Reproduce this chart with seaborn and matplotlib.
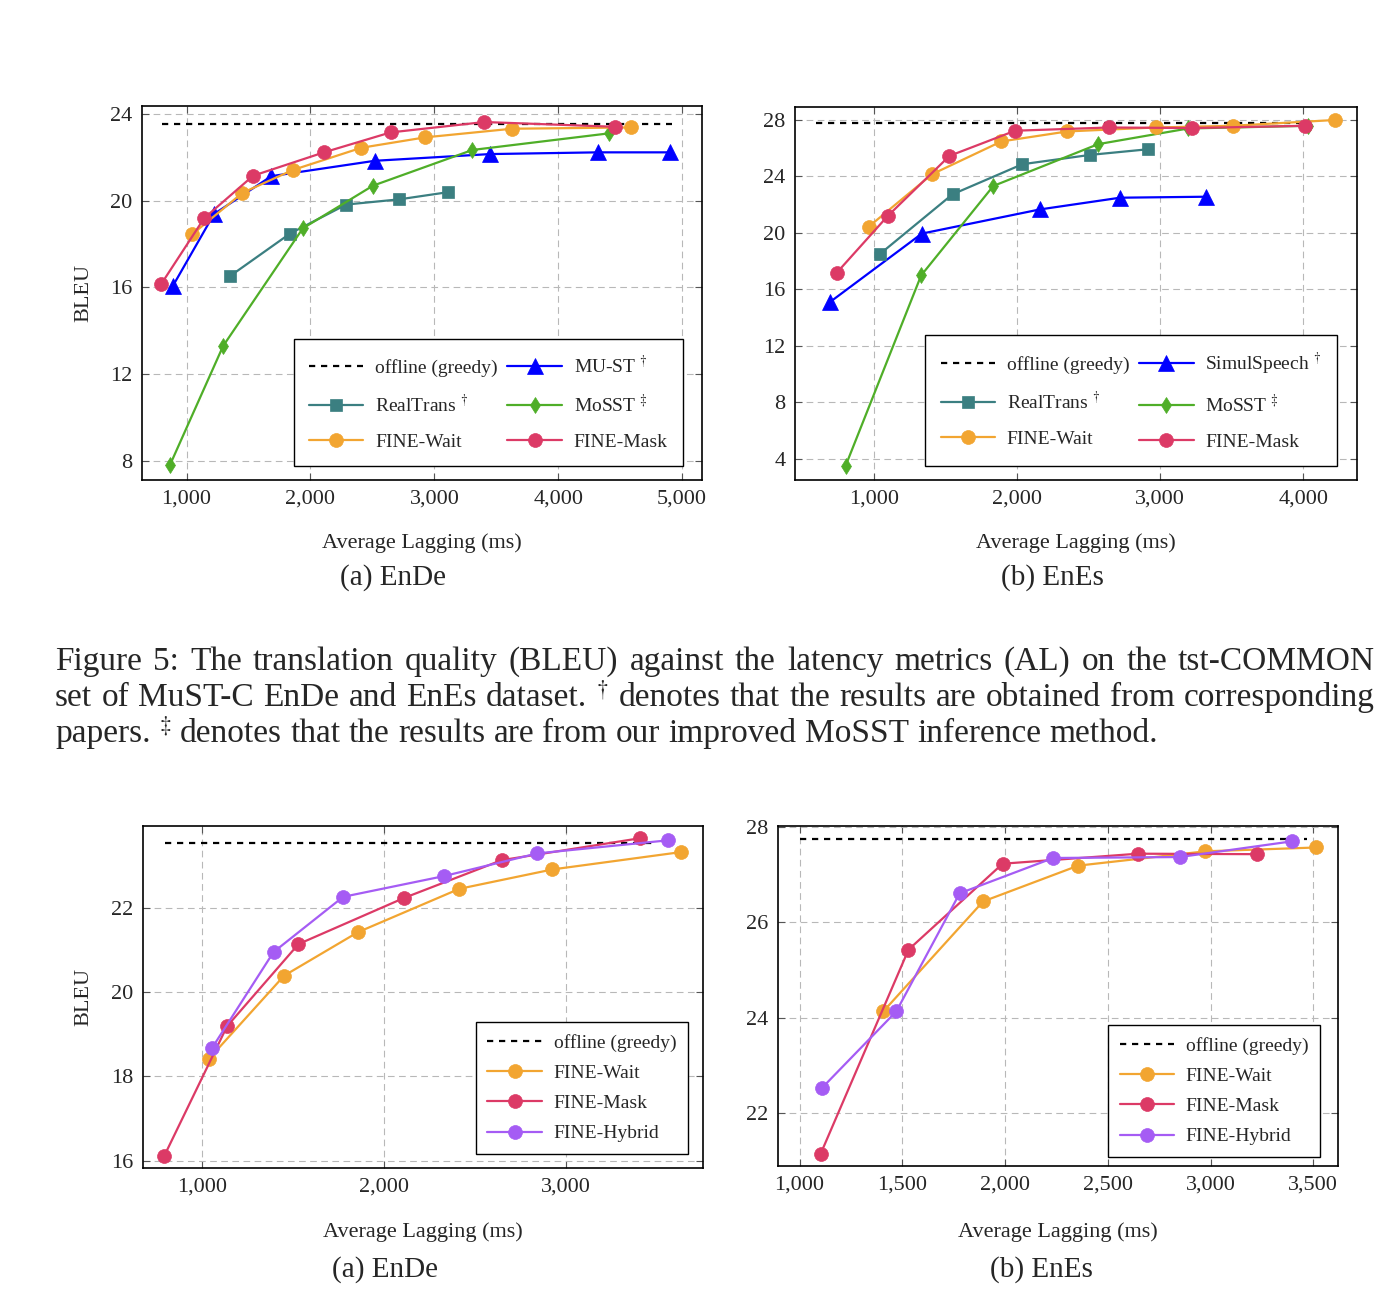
import matplotlib
matplotlib.use("Agg")
import matplotlib.pyplot as plt
import seaborn as sns
from matplotlib.ticker import FuncFormatter, FixedLocator

# ---- data ----
# Fig. 5 (a) EnDe
ende_offline_x = [800, 4920]
ende_offline_bleu = 23.54
ende_wait_x = [1044, 1451, 1855, 2410, 2923, 3625, 4590]
ende_wait_y = [18.44, 20.36, 21.41, 22.44, 22.92, 23.32, 23.38]
ende_mask_x = [793, 1142, 1537, 2109, 2646, 3404, 4457]
ende_mask_y = [16.13, 19.19, 21.15, 22.23, 23.15, 23.63, 23.41]
ende_must_x = [888, 1221, 1684, 2519, 3448, 4319, 4900]
ende_must_y = [16.05, 19.38, 21.13, 21.84, 22.15, 22.23, 22.23]
ende_realtrans_x = [1354, 1835, 2289, 2717, 3109]
ende_realtrans_y = [16.53, 18.48, 19.82, 20.06, 20.39]
ende_mosst_x = [867, 1295, 1938, 2504, 3307, 4413]
ende_mosst_y = [7.81, 13.29, 18.72, 20.69, 22.34, 23.11]

# Fig. 5 (b) EnEs
enes_offline_x = [600, 4020]
enes_offline_bleu = 27.76
enes_wait_x = [964, 1407, 1891, 2351, 2969, 3506, 4219]
enes_wait_y = [20.42, 24.14, 26.46, 27.17, 27.45, 27.57, 27.98]
enes_mask_x = [740, 1097, 1529, 1987, 2644, 3221, 4010]
enes_mask_y = [17.15, 21.18, 25.44, 27.22, 27.45, 27.41, 27.57]
enes_simul_x = [695, 1336, 2160, 2720, 3323]
enes_simul_y = [15.1, 19.94, 21.65, 22.48, 22.55]
enes_realtrans_x = [1046, 1550, 2038, 2511, 2916]
enes_realtrans_y = [18.52, 22.72, 24.85, 25.51, 25.91]
enes_mosst_x = [804, 1331, 1835, 2567, 3196, 4036]
enes_mosst_y = [3.52, 16.98, 23.31, 26.27, 27.38, 27.57]

# second figure (a) EnDe
abl_ende_offline_x = [800, 3470]
abl_ende_offline_bleu = 23.53
abl_ende_wait_x = [1040, 1452, 1856, 2413, 2924, 3627]
abl_ende_wait_y = [18.42, 20.39, 21.42, 22.45, 22.91, 23.32]
abl_ende_mask_x = [795, 1139, 1531, 2108, 2646, 3404]
abl_ende_mask_y = [16.12, 19.19, 21.14, 22.23, 23.13, 23.65]
abl_ende_hybrid_x = [1056, 1394, 1776, 2327, 2841, 3557]
abl_ende_hybrid_y = [18.67, 20.95, 22.26, 22.75, 23.29, 23.60]

# second figure (b) EnEs
abl_enes_offline_x = [1000, 3470]
abl_enes_offline_bleu = 27.74
abl_enes_wait_x = [1408, 1893, 2356, 2975, 3514]
abl_enes_wait_y = [24.14, 26.44, 27.19, 27.49, 27.57]
abl_enes_mask_x = [1102, 1530, 1988, 2647, 3227]
abl_enes_mask_y = [21.15, 25.43, 27.23, 27.44, 27.43]
abl_enes_hybrid_x = [1108, 1471, 1779, 2234, 2850, 3398]
abl_enes_hybrid_y = [22.53, 24.14, 26.61, 27.35, 27.37, 27.70]

caption_lines = [
    "Figure 5: The translation quality (BLEU) against the latency metrics (AL) on the tst-COMMON",
    r"set of MuST-C EnDe and EnEs dataset. $^{\dagger}$ denotes that the results are obtained from corresponding",
    r"papers. $^{\ddagger}$ denotes that the results are from our improved MoSST inference method.",
]

# colours
C_WAIT = "#F2A531"
C_MASK = "#DC3A66"
C_HYBRID = "#A55CF4"
C_BLUE = "#0000FF"
C_TEAL = "#3B7F81"
C_GREEN = "#4FAE28"

sns.set_style("ticks")
plt.rcParams["font.family"] = ["Liberation Serif", "DejaVu Serif"]
plt.rcParams["mathtext.fontset"] = "stix"

FIG_W, FIG_H = 1396, 1312
fig = plt.figure(figsize=(FIG_W / 100, FIG_H / 100), dpi=100)


def px_axes(l, t, r, b):
    return fig.add_axes([l / FIG_W, 1 - b / FIG_H, (r - l) / FIG_W, (b - t) / FIG_H])


def series(ax, x, y, color, marker, ms, label):
    sns.lineplot(x=x, y=y, ax=ax, color=color, marker=marker, markersize=ms,
                 markeredgecolor=color, markeredgewidth=0.5, linewidth=1.6,
                 label=label, sort=False, estimator=None, zorder=3)


def offline(ax, xs, val):
    sns.lineplot(x=xs, y=[val] * len(xs), ax=ax, color="black", linewidth=1.6,
                 linestyle=(0, (2.8, 2.6)), label="offline (greedy)", sort=False,
                 estimator=None, zorder=2)


def style_axes(ax, xlim, ylim, xticks, yticks):
    ax.set_xlim(*xlim)
    ax.set_ylim(*ylim)
    ax.xaxis.set_major_locator(FixedLocator(xticks))
    ax.yaxis.set_major_locator(FixedLocator(yticks))
    ax.xaxis.set_major_formatter(FuncFormatter(lambda v, p: f"{v:,.0f}"))
    ax.yaxis.set_major_formatter(FuncFormatter(lambda v, p: f"{v:.0f}"))
    ax.grid(True, color="#b8b8b8", linestyle=(0, (6, 4)), linewidth=0.8, zorder=0)
    ax.tick_params(direction="in", top=True, right=True, length=5, width=0.8,
                   color="#555555", labelsize=16, pad=7)
    for s in ax.spines.values():
        s.set_color("black")
        s.set_linewidth(1.2)
    ax.set_xlabel("")
    ax.set_ylabel("")


def make_legend(ax, order, ncol, anchor, labelspacing, borderpad):
    h, l = ax.get_legend_handles_labels()
    lookup = dict(zip(l, h))
    leg = ax.legend([lookup[k] for k in order], order, ncol=ncol, loc="lower right",
                    bbox_to_anchor=anchor, borderaxespad=0, fontsize=14,
                    handlelength=2.8, handletextpad=0.6, columnspacing=0.5,
                    labelspacing=labelspacing, borderpad=borderpad, fancybox=False,
                    framealpha=1, edgecolor="black")
    leg.get_frame().set_linewidth(1.0)
    leg.set_zorder(5)


def fig_text(x, y, s, size, **kw):
    fig.text(x / FIG_W, 1 - y / FIG_H, s, fontsize=size, ha="center", va="center", **kw)


# ---- (a) EnDe, top ----
ax1 = px_axes(142, 106, 702, 480)
offline(ax1, ende_offline_x, ende_offline_bleu)
series(ax1, ende_must_x, ende_must_y, C_BLUE, "^", 11, r"MU-ST $^{\dagger}$")
series(ax1, ende_realtrans_x, ende_realtrans_y, C_TEAL, "s", 9, r"RealTrans $^{\dagger}$")
series(ax1, ende_mosst_x, ende_mosst_y, C_GREEN, "d", 8, r"MoSST $^{\ddagger}$")
series(ax1, ende_wait_x, ende_wait_y, C_WAIT, "o", 10, "FINE-Wait")
series(ax1, ende_mask_x, ende_mask_y, C_MASK, "o", 10, "FINE-Mask")
style_axes(ax1, (640, 5160), (7.1, 24.37), [1000, 2000, 3000, 4000, 5000], [8, 12, 16, 20, 24])
make_legend(ax1, ["offline (greedy)", r"RealTrans $^{\dagger}$", "FINE-Wait",
                  r"MU-ST $^{\dagger}$", r"MoSST $^{\ddagger}$", "FINE-Mask"],
            2, (0.966, 0.037), 0.88, 0.79)

# ---- (b) EnEs, top ----
ax2 = px_axes(795, 107, 1357, 480)
offline(ax2, enes_offline_x, enes_offline_bleu)
series(ax2, enes_simul_x, enes_simul_y, C_BLUE, "^", 11, r"SimulSpeech $^{\dagger}$")
series(ax2, enes_realtrans_x, enes_realtrans_y, C_TEAL, "s", 9, r"RealTrans $^{\dagger}$")
series(ax2, enes_mosst_x, enes_mosst_y, C_GREEN, "d", 8, r"MoSST $^{\ddagger}$")
series(ax2, enes_wait_x, enes_wait_y, C_WAIT, "o", 10, "FINE-Wait")
series(ax2, enes_mask_x, enes_mask_y, C_MASK, "o", 10, "FINE-Mask")
style_axes(ax2, (450, 4375), (2.5, 28.9), [1000, 2000, 3000, 4000], [4, 8, 12, 16, 20, 24, 28])
make_legend(ax2, ["offline (greedy)", r"RealTrans $^{\dagger}$", "FINE-Wait",
                  r"SimulSpeech $^{\dagger}$", r"MoSST $^{\ddagger}$", "FINE-Mask"],
            2, (0.964, 0.0375), 0.88, 0.79)

# ---- (a) EnDe, bottom ----
ax3 = px_axes(143, 826, 703, 1168)
offline(ax3, abl_ende_offline_x, abl_ende_offline_bleu)
series(ax3, abl_ende_wait_x, abl_ende_wait_y, C_WAIT, "o", 10, "FINE-Wait")
series(ax3, abl_ende_mask_x, abl_ende_mask_y, C_MASK, "o", 10, "FINE-Mask")
series(ax3, abl_ende_hybrid_x, abl_ende_hybrid_y, C_HYBRID, "o", 10, "FINE-Hybrid")
style_axes(ax3, (678, 3750), (15.83, 23.94), [1000, 2000, 3000], [16, 18, 20, 22])
make_legend(ax3, ["offline (greedy)", "FINE-Wait", "FINE-Mask", "FINE-Hybrid"],
            1, (0.973, 0.041), 0.65, 0.6)

# ---- (b) EnEs, bottom ----
ax4 = px_axes(778, 826, 1338, 1166)
offline(ax4, abl_enes_offline_x, abl_enes_offline_bleu)
series(ax4, abl_enes_wait_x, abl_enes_wait_y, C_WAIT, "o", 10, "FINE-Wait")
series(ax4, abl_enes_mask_x, abl_enes_mask_y, C_MASK, "o", 10, "FINE-Mask")
series(ax4, abl_enes_hybrid_x, abl_enes_hybrid_y, C_HYBRID, "o", 10, "FINE-Hybrid")
style_axes(ax4, (895, 3620), (20.9, 28.02), [1000, 1500, 2000, 2500, 3000, 3500], [22, 24, 26, 28])
make_legend(ax4, ["offline (greedy)", "FINE-Wait", "FINE-Mask", "FINE-Hybrid"],
            1, (0.968, 0.026), 0.65, 0.6)

# axis labels and sub-captions
for cx, y in [(422, 543), (1076, 543), (423, 1232), (1058, 1232)]:
    fig_text(cx, y, "Average Lagging (ms)", 16)
for y in [293, 997]:
    fig_text(84, y, "BLEU", 16, rotation=90)
fig_text(393, 578, "(a) EnDe", 21)
fig_text(1052, 578, "(b) EnEs", 21)
fig_text(385, 1270, "(a) EnDe", 21)
fig_text(1041, 1270, "(b) EnEs", 21)

# justified caption
renderer = fig.canvas.get_renderer()
cap_size = 24
for i, (line, base) in enumerate(zip(caption_lines, [670, 706, 742])):
    words = line.split(" ")
    texts = [fig.text(0, 1 - base / FIG_H, w, fontsize=cap_size, ha="left", va="baseline")
             for w in words]
    widths = [t.get_window_extent(renderer).width for t in texts]
    if i < 2:
        gap = (1375 - 55 - sum(widths)) / (len(words) - 1)
    else:
        gap = cap_size * 100 / 72 * 0.25
    x = 55
    for t, w in zip(texts, widths):
        t.set_x(x / FIG_W)
        x += w + gap

fig.savefig("out.png", dpi=100)
